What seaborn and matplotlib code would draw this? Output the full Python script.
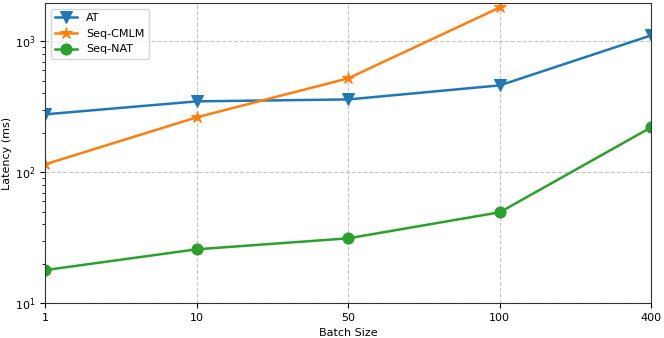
import matplotlib
matplotlib.use("Agg")
import matplotlib.pyplot as plt
import seaborn as sns
import pandas as pd
import numpy as np

batch_sizes = ["1", "10", "50", "100", "400"]
at_latency = [277, 348, 360, 461, 1112]
cmlm_latency = [115, 263, 522, 1815]
nat_latency = [17.9, 25.8, 31.3, 49.5, 221]

plt.rcParams['font.family'] = ['DejaVu Sans']
plt.rcParams['font.size'] = 8

fig, ax = plt.subplots(figsize=(6.64, 3.38), dpi=100)
fig.subplots_adjust(left=0.068, right=0.981, top=0.99, bottom=0.103)

pos = list(range(len(batch_sizes)))
series = [
    ("AT", at_latency, "v", "#1f77b4", 8),
    ("Seq-CMLM", cmlm_latency, "*", "#ff7f0e", 9),
    ("Seq-NAT", nat_latency, "o", "#2ca02c", 8),
]
for name, vals, mk, col, ms in series:
    df = pd.DataFrame({"x": pos[:len(vals)], "y": vals})
    sns.lineplot(data=df, x="x", y="y", ax=ax, marker=mk, color=col,
                 markersize=ms, linewidth=1.8, markeredgecolor=col, label=name)

ax.set_yscale("log")
ax.set_xlim(0, len(batch_sizes) - 1)
ax.set_ylim(10, 1950)
ax.set_xticks(pos)
ax.set_xticklabels(batch_sizes)
ax.set_xlabel("Batch Size")
ax.set_ylabel("Latency (ms)", labelpad=2)
ax.grid(True, which="major", linestyle="--", color="#c4c4c4", linewidth=0.8)
ax.legend(loc="upper left", fontsize=8)
for s in ax.spines.values():
    s.set_color("#333333")
fig.savefig("out.png", dpi=100)
